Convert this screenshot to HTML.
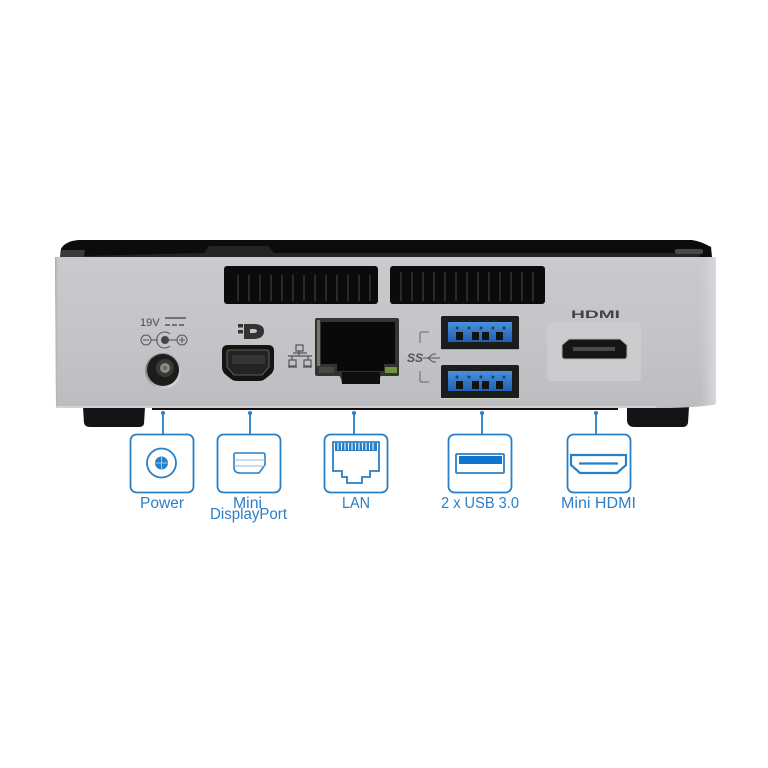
<!DOCTYPE html>
<html><head><meta charset="utf-8"><style>html,body{margin:0;padding:0;background:#fff}svg{display:block}text{font-family:"Liberation Sans",sans-serif}</style></head>
<body>
<svg width="768" height="768" viewBox="0 0 768 768" xmlns="http://www.w3.org/2000/svg">
<defs>
<linearGradient id="b" x1="0" y1="0" x2="0" y2="1"><stop offset="0" stop-color="#c9cace"/><stop offset=".5" stop-color="#c3c5c9"/><stop offset="1" stop-color="#bbbdc1"/></linearGradient>
<linearGradient id="bx" x1="0" y1="0" x2="1" y2="0"><stop offset="0" stop-color="#a4a6aa"/><stop offset=".006" stop-color="#c4c6ca" stop-opacity="0"/><stop offset=".975" stop-color="#d0d1d4" stop-opacity="0"/><stop offset="1" stop-color="#d8d9dc"/></linearGradient>
<linearGradient id="u" x1="0" y1="0" x2="0" y2="1"><stop offset="0" stop-color="#4a90dc"/><stop offset="1" stop-color="#1f5fb0"/></linearGradient>
<linearGradient id="j" x1="0" y1="0" x2="1" y2="1"><stop offset="0" stop-color="#6c6c6a"/><stop offset="1" stop-color="#e8e8e6"/></linearGradient>
</defs>
<rect width="768" height="768" fill="#fff"/>
<!-- top -->
<path d="M60 257 L61 249 Q63 244 72 241 L78 240 H692 Q700 241 711 247 L712 257Z" fill="#0c0c0d"/>
<path d="M84 256 L204 253 L209 246 H268 L274 253 H700 V257 H84Z" fill="#242426"/>
<path d="M60 257L62 250L85 250L84 257Z" fill="#3a3a3c"/>
<rect x="675" y="249" width="28" height="5" rx="2" fill="#48484a"/>
<!-- feet -->
<path d="M83 407H145L144 424Q143 427 139 427H90Q85 427 84 423Z" fill="#141416"/>
<path d="M627 407H689L688 423Q687 427 683 427H634Q628 427 627 421Z" fill="#141416"/>
<rect x="152" y="407" width="466" height="3" fill="#111"/>
<!-- body -->
<path d="M55 257H714Q716 257 716 259V402Q716 405 712 405Q690 408 660 408H56Z" fill="url(#b)"/>
<path d="M55 257H714Q716 257 716 259V402Q716 405 712 405Q690 408 660 408H56Z" fill="url(#bx)"/>
<rect x="56" y="406" width="600" height="2" fill="#d2d3d5"/>
<!-- vents -->
<rect x="224" y="266" width="154" height="38" rx="3" fill="#0b0b0c"/>
<rect x="390" y="266" width="155" height="38" rx="3" fill="#0b0b0c"/>
<g stroke="#48484a" stroke-width="1">
<path d="M238 275V301M249 275V301M260 275V301M271 275V301M282 275V301M293 275V301M304 275V301M315 275V301M326 275V301M337 275V301M348 275V301M359 275V301M370 275V301"/>
<path d="M401 272V301M412 272V301M423 272V301M434 272V301M445 272V301M456 272V301M467 272V301M478 272V301M489 272V301M500 272V301M511 272V301M522 272V301M533 272V301"/>
</g>
<!-- power -->
<text x="140" y="326" font-size="11" fill="#4a4a4c">19V</text>
<path d="M165 318H186" stroke="#555" stroke-width="1.500"/>
<path d="M165 325H186" stroke="#555" stroke-width="1.500" stroke-dasharray="5 2"/>
<g fill="none" stroke="#555" stroke-width="1">
<circle cx="146" cy="340" r="5"/><circle cx="182" cy="340" r="5"/>
<path d="M143 340H149M179 340H185M182 337V343M151 340H158M168 340H177"/>
<path d="M170 334A8 8 0 1 0 170 346"/>
</g>
<circle cx="165" cy="340" r="4" fill="#444"/>
<circle cx="163" cy="371" r="18" fill="url(#j)"/>
<circle cx="163" cy="370" r="16" fill="#1c1c1b"/>
<circle cx="165" cy="368" r="9" fill="#393836"/>
<circle cx="165" cy="368" r="5" fill="#8f8a80"/>
<circle cx="165" cy="368" r="2" fill="#666"/>
<!-- mDP -->
<rect x="238" y="324" width="5" height="3.500" fill="#333"/><rect x="238" y="330" width="5" height="3.500" fill="#333"/>
<path d="M244 324H253Q264 324 264 331Q264 339 253 339H250V333H253Q257 333 257 331Q257 329 253 329H250V339H244Z" fill="#333"/>
<path d="M222 351Q222 345 228 345H268Q274 345 274 351V367Q274 372 270 375L265 379Q263 381 258 381H238Q233 381 231 379L226 375Q222 372 222 367Z" fill="#141414"/>
<path d="M227 352Q227 350 229 350H267Q269 350 269 352V367L262 375H234L227 367Z" fill="#232323" stroke="#77736a" stroke-width=".8"/>
<rect x="232" y="355" width="33" height="9" fill="#353535"/>
<!-- net symbol -->
<g fill="none" stroke="#555" stroke-width="1.200"><rect x="296" y="345" width="7" height="6"/><rect x="289" y="360" width="7" height="6"/><rect x="304" y="360" width="7" height="6"/><path d="M293 353H307M299 351V356M288 356H312M292 356V360M308 356V360M288 367H297M303 367H312"/></g>
<!-- LAN -->
<path d="M315 320Q315 318 317 318H397Q399 318 399 320V375Q399 376 397 376H381Q380 376 379 384H342Q341 376 339 376H317Q315 376 315 374Z" fill="#33332f"/>
<path d="M321 322H395V364H384V371H337V364H321Z" fill="#090909"/>
<rect x="319" y="367" width="15" height="6" fill="#4a4842"/>
<rect x="385" y="367" width="12" height="6" fill="#6f9440"/>
<rect x="342" y="372" width="38" height="12" fill="#0e0e0e"/>
<rect x="317" y="320" width="3" height="46" fill="#77756d"/>
<!-- USB -->
<rect x="441" y="316" width="78" height="34" rx="2" fill="#1c1c1c"/><rect x="441" y="365" width="78" height="34" rx="2" fill="#1c1c1c"/>
<path d="M441 349.500H519" stroke="#a8a59c" stroke-width="1"/><path d="M441 398.500H519" stroke="#d0cec8" stroke-width="1"/>
<rect x="448" y="322" width="64" height="20" fill="url(#u)"/>
<rect x="448" y="371" width="64" height="20" fill="url(#u)"/>
<g fill="#121212"><rect x="456" y="332" width="7" height="8"/><rect x="472" y="332" width="7" height="8"/><rect x="482" y="332" width="7" height="8"/><rect x="496" y="332" width="7" height="8"/><rect x="456" y="381" width="7" height="8"/><rect x="472" y="381" width="7" height="8"/><rect x="482" y="381" width="7" height="8"/><rect x="496" y="381" width="7" height="8"/></g>
<g fill="#16406e"><circle cx="457" cy="328" r="1.500"/><circle cx="469" cy="328" r="1.500"/><circle cx="481" cy="328" r="1.500"/><circle cx="493" cy="328" r="1.500"/><circle cx="504" cy="328" r="1.500"/><circle cx="457" cy="377" r="1.500"/><circle cx="469" cy="377" r="1.500"/><circle cx="481" cy="377" r="1.500"/><circle cx="493" cy="377" r="1.500"/><circle cx="504" cy="377" r="1.500"/></g>
<!-- SS -->
<path d="M429 332H422Q420 332 420 334V343M429 382H422Q420 382 420 380V371" fill="none" stroke="#666" stroke-width="1"/>
<text x="407" y="362" font-size="12" font-style="italic" font-weight="bold" fill="#555">SS</text>
<path d="M423 358H440M428 358L433 354H436M428 358L433 362H436" fill="none" stroke="#555" stroke-width="1"/>
<!-- HDMI -->
<text x="571" y="318" font-size="11" font-weight="bold" fill="#444" textLength="49" lengthAdjust="spacingAndGlyphs">HDMI</text>
<rect x="547" y="322" width="94" height="59" rx="4" fill="#cbccce"/>
<path d="M562 345L569 339H620L627 345V356Q627 359 624 359H565Q562 359 562 356Z" fill="#161616" stroke="#b5ae9d" stroke-width="1"/>
<rect x="573" y="347" width="42" height="4" fill="#4a4a4a"/>
<!-- connectors -->
<g stroke="#2880c8" stroke-width="1.800" fill="none">
<path d="M163 413V434M250 413V434M354 413V434M482 413V434M596 413V434"/>
<rect x="130.500" y="434.500" width="63" height="58" rx="6"/>
<rect x="217.500" y="434.500" width="63" height="58" rx="6"/>
<rect x="324.500" y="434.500" width="63" height="58" rx="6"/>
<rect x="448.500" y="434.500" width="63" height="58" rx="6"/>
<rect x="567.500" y="434.500" width="63" height="58" rx="6"/>
<!-- power icon -->
<circle cx="161.500" cy="463" r="14.500"/>
<!-- mDP icon -->
<path d="M236 453H263Q265 453 265 455V465L259 473H240Q234 473 234 467V455Q234 453 236 453Z" stroke-width="1.600"/>
<path d="M234 460H265M234 466H265" stroke="#8dbde4" stroke-width="1"/>
<!-- LAN icon -->
<path d="M333 442H379V471H370V477H362V483H347V477H342V471H333Z" stroke-width="1.800"/>
<!-- USB icon -->
<rect x="456" y="454" width="48" height="19" rx="1" stroke-width="1.800"/>
<!-- HDMI icon -->
<path d="M571 455H626V465L617 473H580L571 465Z" stroke-width="2.200"/>
<path d="M579 463.500H618" stroke-width="2.200"/>
</g>
<g fill="#2880c8">
<circle cx="163" cy="413" r="2"/><circle cx="250" cy="413" r="2"/><circle cx="354" cy="413" r="2"/><circle cx="482" cy="413" r="2"/><circle cx="596" cy="413" r="2"/>
<circle cx="161.500" cy="463" r="6.500"/>
<rect x="459" y="456" width="43" height="8" fill="#0f75cf"/>
<path d="M335 443H377V451H335Z"/>
</g>
<path d="M161.500 457V469M155.500 463H167.500" stroke="#9ccaf0" stroke-width="1"/>
<path d="M338 443V450M341.500 443V450M345 443V450M348.500 443V450M352 443V450M355.500 443V450M359 443V450M362.500 443V450M366 443V450M369.500 443V450M373 443V450" stroke="#fff" stroke-width="1"/>
<g fill="#2a7fc6" font-size="15.500" text-anchor="start">
<text x="140" y="508" textLength="44" lengthAdjust="spacingAndGlyphs">Power</text>
<text x="233" y="508" textLength="29" lengthAdjust="spacingAndGlyphs">Mini</text>
<text x="210" y="519" textLength="77" lengthAdjust="spacingAndGlyphs">DisplayPort</text>
<text x="342" y="508" textLength="28" lengthAdjust="spacingAndGlyphs">LAN</text>
<text x="441" y="508" textLength="78" lengthAdjust="spacingAndGlyphs">2 x USB 3.0</text>
<text x="561" y="508" textLength="75" lengthAdjust="spacingAndGlyphs">Mini HDMI</text>
</g>
</svg>
</body></html>
